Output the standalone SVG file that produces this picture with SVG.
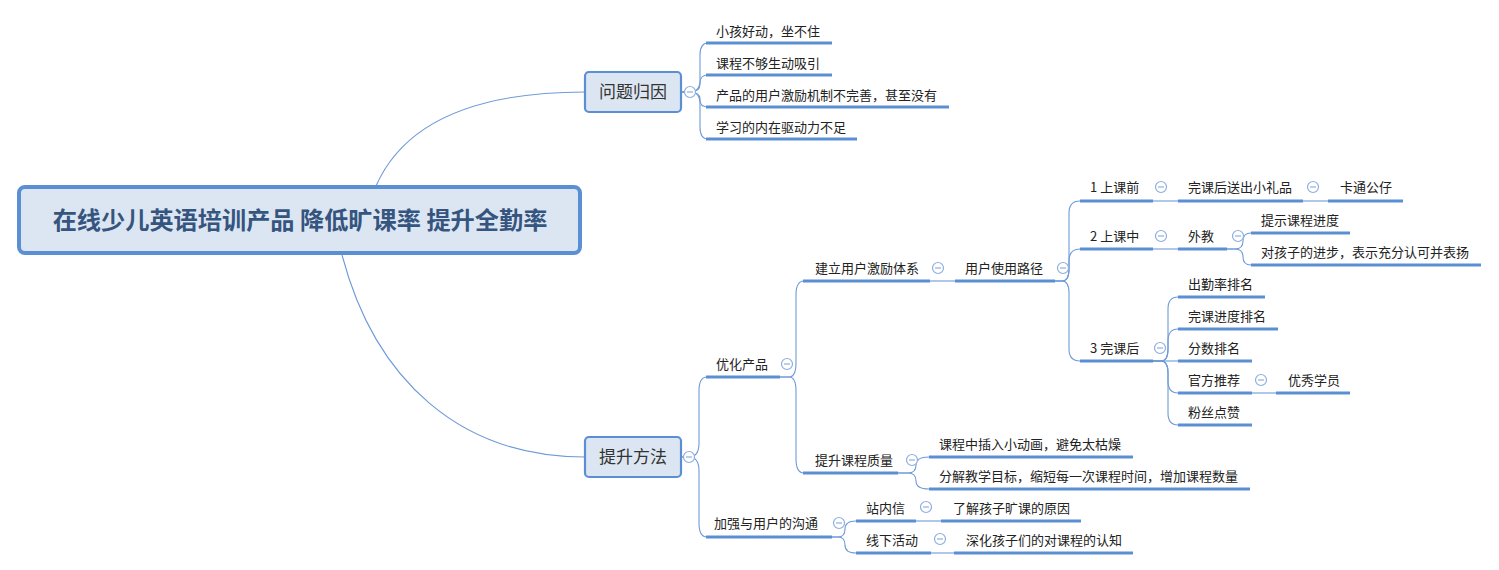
<svg xmlns="http://www.w3.org/2000/svg" xmlns:xlink="http://www.w3.org/1999/xlink" width="1499" height="570" viewBox="0 0 1499 570">
<style>
.t{font-family:"Noto Sans CJK SC","Liberation Sans",sans-serif;font-size:13px;fill:#222}
.bt{font-family:"Noto Sans CJK SC","Liberation Sans",sans-serif;font-size:17px;fill:#333}
.rt{font-family:"Noto Sans CJK SC","Liberation Sans",sans-serif;font-size:24.2px;font-weight:bold;fill:#35557f}
.ul{stroke:#5b8fd4;stroke-width:3;fill:none}
.c{fill:none;stroke:#6e9ad8;stroke-width:1.1}
.box{fill:#dce6f2;stroke:#5b8fd4;stroke-width:2.2}
</style>
<defs>
<g id="m"><circle r="5.5" fill="#fff" stroke="#8eaede" stroke-width="1.2"/><line x1="-3" y1="0" x2="3" y2="0" stroke="#8eaede" stroke-width="1.2"/></g>
</defs>
<rect width="1499" height="570" fill="#fff"/>
<g id="connectors" class="c">
<path d="M376,186 C405,120 480,92 585,92"/>
<path d="M342,255 C375,380 460,457 585,457"/>
<path d="M681,92 H690 Q700,92 700,80 V55 Q700,43 708,43"/>
<path d="M681,92 H690 Q700,92 700,84 V83 Q700,75 708,75"/>
<path d="M681,92 H690 Q700,92 700,99 V100 Q700,107 708,107"/>
<path d="M681,92 H690 Q700,92 700,104 V127 Q700,139 708,139"/>
<path d="M681,457 H689 Q699,457 699,443 V391 Q699,377 707,377"/>
<path d="M681,457 H689 Q699,457 699,471 V523 Q699,537 707,537"/>
<path d="M780,377 H789 Q796,377 796,363 V295 Q796,281 804,281"/>
<path d="M780,377 H789 Q796,377 796,391 V459 Q796,473 804,473"/>
<path d="M930,281 H955"/>
<path d="M1055,281 H1062 Q1069,281 1069,269 V213 Q1069,201 1080,201"/>
<path d="M1055,281 H1062 Q1069,281 1069,269 V261 Q1069,249 1080,249"/>
<path d="M1055,281 H1062 Q1069,281 1069,293 V349 Q1069,361 1080,361"/>
<path d="M1153,201 H1178"/>
<path d="M1303,201 H1328"/>
<path d="M1153,249 H1178"/>
<path d="M1227,249 H1235 Q1243,249 1243,241 V241 Q1243,233 1251,233"/>
<path d="M1227,249 H1235 Q1243,249 1243,257 V257 Q1243,265 1251,265"/>
<path d="M1153,361 H1161 Q1168,361 1168,349 V309 Q1168,297 1178,297"/>
<path d="M1153,361 H1161 Q1168,361 1168,349 V341 Q1168,329 1178,329"/>
<path d="M1153,361 H1178"/>
<path d="M1153,361 H1161 Q1168,361 1168,373 V381 Q1168,393 1178,393"/>
<path d="M1153,361 H1161 Q1168,361 1168,373 V413 Q1168,425 1178,425"/>
<path d="M1252,393 H1276"/>
<path d="M898,473 H908 Q916,473 916,465 V465 Q916,457 929,457"/>
<path d="M898,473 H908 Q916,473 916,481 V481 Q916,489 929,489"/>
<path d="M832,537 H838 Q845,537 845,529 V529 Q845,521 856,521"/>
<path d="M832,537 H838 Q845,537 845,545 V545 Q845,553 856,553"/>
<path d="M916,521 H941"/>
<path d="M931,553 H954"/>
</g>
<g id="root">
<rect x="19" y="187" width="561" height="66" rx="6" fill="#dce6f2" stroke="#5b8fd4" stroke-width="4"/>
<text class="rt" x="300" y="229" text-anchor="middle">在线少儿英语培训产品 降低旷课率 提升全勤率</text>
</g>
<g id="n-wentiguiyin">
<rect class="box" x="585" y="72" width="96" height="40" rx="4"/>
<text class="bt" x="633" y="98" text-anchor="middle">问题归因</text>
<use href="#m" x="690" y="92"/>
</g>
<g id="n-leaf1"><text class="t" x="716" y="36">小孩好动，坐不住</text><line class="ul" x1="706" y1="43" x2="832" y2="43"/></g>
<g id="n-leaf2"><text class="t" x="716" y="68">课程不够生动吸引</text><line class="ul" x1="706" y1="75" x2="832" y2="75"/></g>
<g id="n-leaf3"><text class="t" x="716" y="100">产品的用户激励机制不完善，甚至没有</text><line class="ul" x1="706" y1="107" x2="949" y2="107"/></g>
<g id="n-leaf4"><text class="t" x="716" y="132">学习的内在驱动力不足</text><line class="ul" x1="706" y1="139" x2="857" y2="139"/></g>
<g id="n-tishengfangfa">
<rect class="box" x="585" y="437" width="96" height="40" rx="4"/>
<text class="bt" x="633" y="463" text-anchor="middle">提升方法</text>
<use href="#m" x="689" y="457"/>
</g>
<g id="n-youhua"><text class="t" x="716" y="369">优化产品</text><line class="ul" x1="706" y1="377" x2="780" y2="377"/><use href="#m" x="787" y="364"/></g>
<g id="n-jianli"><text class="t" x="815" y="273">建立用户激励体系</text><line class="ul" x1="803" y1="281" x2="930" y2="281"/><use href="#m" x="938" y="268"/></g>
<g id="n-lujing"><text class="t" x="965" y="273">用户使用路径</text><line class="ul" x1="955" y1="281" x2="1055" y2="281"/><use href="#m" x="1063" y="268"/></g>
<g id="n-s1"><text class="t" x="1090" y="192">1 上课前</text><line class="ul" x1="1080" y1="201" x2="1153" y2="201"/><use href="#m" x="1161" y="187"/></g>
<g id="n-s2"><text class="t" x="1090" y="241">2 上课中</text><line class="ul" x1="1080" y1="249" x2="1153" y2="249"/><use href="#m" x="1161" y="236"/></g>
<g id="n-s3"><text class="t" x="1090" y="353">3 完课后</text><line class="ul" x1="1080" y1="361" x2="1153" y2="361"/><use href="#m" x="1160" y="348"/></g>
<g id="n-gift"><text class="t" x="1188" y="192">完课后送出小礼品</text><line class="ul" x1="1178" y1="201" x2="1303" y2="201"/><use href="#m" x="1313" y="187"/></g>
<g id="n-toy"><text class="t" x="1340" y="192">卡通公仔</text><line class="ul" x1="1328" y1="201" x2="1403" y2="201"/></g>
<g id="n-waijiao"><text class="t" x="1188" y="241">外教</text><line class="ul" x1="1178" y1="249" x2="1227" y2="249"/><use href="#m" x="1238" y="236"/></g>
<g id="n-tishi"><text class="t" x="1261" y="225">提示课程进度</text><line class="ul" x1="1251" y1="233" x2="1350" y2="233"/></g>
<g id="n-biaoyang"><text class="t" x="1261" y="257">对孩子的进步，表示充分认可并表扬</text><line class="ul" x1="1251" y1="265" x2="1481" y2="265"/></g>
<g id="n-r1"><text class="t" x="1188" y="289">出勤率排名</text><line class="ul" x1="1178" y1="297" x2="1265" y2="297"/></g>
<g id="n-r2"><text class="t" x="1188" y="321">完课进度排名</text><line class="ul" x1="1178" y1="329" x2="1278" y2="329"/></g>
<g id="n-r3"><text class="t" x="1188" y="353">分数排名</text><line class="ul" x1="1178" y1="361" x2="1252" y2="361"/></g>
<g id="n-r4"><text class="t" x="1188" y="385">官方推荐</text><line class="ul" x1="1178" y1="393" x2="1252" y2="393"/><use href="#m" x="1261" y="380"/></g>
<g id="n-youxiu"><text class="t" x="1288" y="385">优秀学员</text><line class="ul" x1="1276" y1="393" x2="1350" y2="393"/></g>
<g id="n-r5"><text class="t" x="1188" y="417">粉丝点赞</text><line class="ul" x1="1178" y1="425" x2="1252" y2="425"/></g>
<g id="n-zhiliang"><text class="t" x="815" y="465">提升课程质量</text><line class="ul" x1="803" y1="473" x2="898" y2="473"/><use href="#m" x="912" y="460"/></g>
<g id="n-donghua"><text class="t" x="939" y="449">课程中插入小动画，避免太枯燥</text><line class="ul" x1="929" y1="457" x2="1133" y2="457"/></g>
<g id="n-fenjie"><text class="t" x="939" y="481">分解教学目标，缩短每一次课程时间，增加课程数量</text><line class="ul" x1="929" y1="489" x2="1250" y2="489"/></g>
<g id="n-goutong"><text class="t" x="714" y="528">加强与用户的沟通</text><line class="ul" x1="706" y1="537" x2="832" y2="537"/><use href="#m" x="839" y="523"/></g>
<g id="n-zhanneixin"><text class="t" x="866" y="513">站内信</text><line class="ul" x1="856" y1="521" x2="916" y2="521"/><use href="#m" x="926" y="507"/></g>
<g id="n-liaojie"><text class="t" x="953" y="513">了解孩子旷课的原因</text><line class="ul" x1="941" y1="521" x2="1081" y2="521"/></g>
<g id="n-xianxia"><text class="t" x="866" y="545">线下活动</text><line class="ul" x1="856" y1="553" x2="931" y2="553"/><use href="#m" x="940" y="539"/></g>
<g id="n-shenhua"><text class="t" x="966" y="545">深化孩子们的对课程的认知</text><line class="ul" x1="954" y1="553" x2="1133" y2="553"/></g>
</svg>
